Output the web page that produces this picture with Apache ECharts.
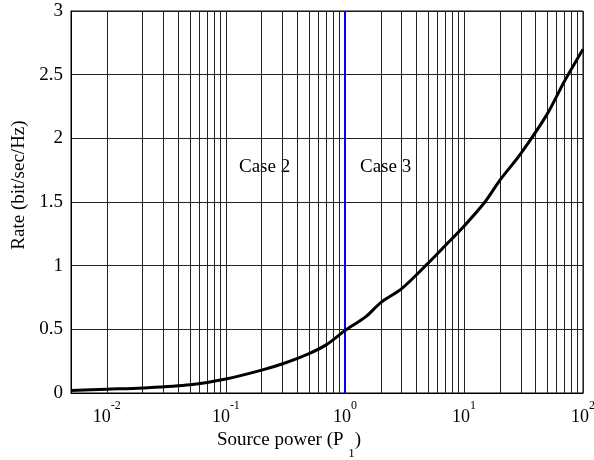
<!DOCTYPE html>
<html>
<head>
<meta charset="utf-8">
<script src="https://cdn.jsdelivr.net/npm/echarts@6/dist/echarts.min.js"></script>
<style>
  html, body { margin: 0; padding: 0; background: #fff; }
  #main { width: 594px; height: 460px; }
</style>
</head>
<body>
<div id="main"></div>
<script>
// source power P1 and achievable rate
var powers = [0.005, 0.01, 0.02, 0.05, 0.1, 0.2, 0.3, 0.5, 0.7, 1, 1.5, 2, 3, 5, 7, 10, 15, 20, 30, 50, 70, 100];
var rates  = [0.02, 0.03, 0.04, 0.065, 0.11, 0.18, 0.23, 0.31, 0.38, 0.49, 0.60, 0.71, 0.82, 1.02, 1.16, 1.31, 1.50, 1.67, 1.88, 2.19, 2.45, 2.70];
var boundary = 1;          // case 2 / case 3 split
var yTicks = [0, 0.5, 1, 1.5, 2, 2.5, 3];

var serif = '"Liberation Serif", "DejaVu Serif", serif';
var myChart = echarts.init(document.getElementById('main'));

// minor log grid lines (2..9 x 10^n)
var minorLines = [];
for (var e = -3; e <= 1; e++) {
    for (var m = 2; m <= 9; m++) {
        var v = m * Math.pow(10, e);
        if (v > 0.005 && v < 100) minorLines.push({ xAxis: v });
    }
}

var points = powers.map(function (p, i) { return [p, rates[i]]; });

option = {
    animation: false,
    grid: {
        left: 71, right: 11, top: 11, bottom: 67,
        outerBoundsMode: 'none',
        containLabel: false,
        show: true, borderColor: '#000', borderWidth: 1
    },
    xAxis: {
        type: 'log',
        logBase: 10,
        min: 0.005,
        max: 100,
        name: '{a|Source power (P }{s|1}{a|)}',
        nameLocation: 'middle',
        nameGap: 38,
        nameTextStyle: {
            padding: [0, 76, 0, 0],
            rich: {
                a: { fontFamily: serif, fontSize: 19, color: '#000', lineHeight: 22, verticalAlign: 'top' },
                s: { fontFamily: serif, fontSize: 13, color: '#000', lineHeight: 13, verticalAlign: 'bottom', padding: [0, 0, -7, 0] }
            }
        },
        axisLine: { lineStyle: { color: '#000' } },
        axisTick: { show: false },
        splitLine: { show: true, lineStyle: { color: '#222', width: 1 } },
        axisLabel: {
            margin: 7,
            showMinLabel: false,
            formatter: function (val) {
                var l = Math.log10(val);
                var r = Math.round(l);
                if (Math.abs(l - r) > 1e-6) return '';
                return '{b|10}{s|' + r + '}';
            },
            rich: {
                b: { fontFamily: serif, fontSize: 18, color: '#000', lineHeight: 26, verticalAlign: 'bottom' },
                s: { fontFamily: serif, fontSize: 12, color: '#000', lineHeight: 12, verticalAlign: 'top' }
            }
        }
    },
    yAxis: {
        type: 'value',
        min: yTicks[0],
        max: yTicks[yTicks.length - 1],
        interval: 0.5,
        name: 'Rate (bit/sec/Hz)',
        nameLocation: 'middle',
        nameGap: 42,
        nameTextStyle: { fontFamily: serif, fontSize: 19, color: '#000', padding: [0, 0, 0, 34] },
        axisLine: { show: true, lineStyle: { color: '#000' } },
        axisTick: { show: false },
        splitLine: { show: true, lineStyle: { color: '#222', width: 1 } },
        axisLabel: { fontFamily: serif, fontSize: 19, color: '#000', margin: 8 }
    },
    graphic: [
        { type: 'text', left: 239, top: 158, style: { text: 'Case 2', font: '19px ' + serif, fill: '#000' } },
        { type: 'text', left: 360, top: 158, style: { text: 'Case 3', font: '19px ' + serif, fill: '#000' } }
    ],
    series: [
        {
            name: 'grid',
            type: 'line',
            data: [],
            markLine: {
                silent: true,
                symbol: 'none',
                label: { show: false },
                lineStyle: { color: '#222', type: 'solid', width: 1 },
                data: minorLines
            }
        },
        {
            name: 'rate',
            type: 'line',
            data: points,
            showSymbol: false,
            smooth: 0.3,
            lineStyle: { color: '#000', width: 3 },
            markLine: {
                silent: true,
                symbol: 'none',
                label: { show: false },
                lineStyle: { color: '#0000ff', type: 'solid', width: 2 },
                data: [{ xAxis: boundary }]
            },
            z: 5
        }
    ]
};

myChart.setOption(option);
</script>
</body>
</html>
